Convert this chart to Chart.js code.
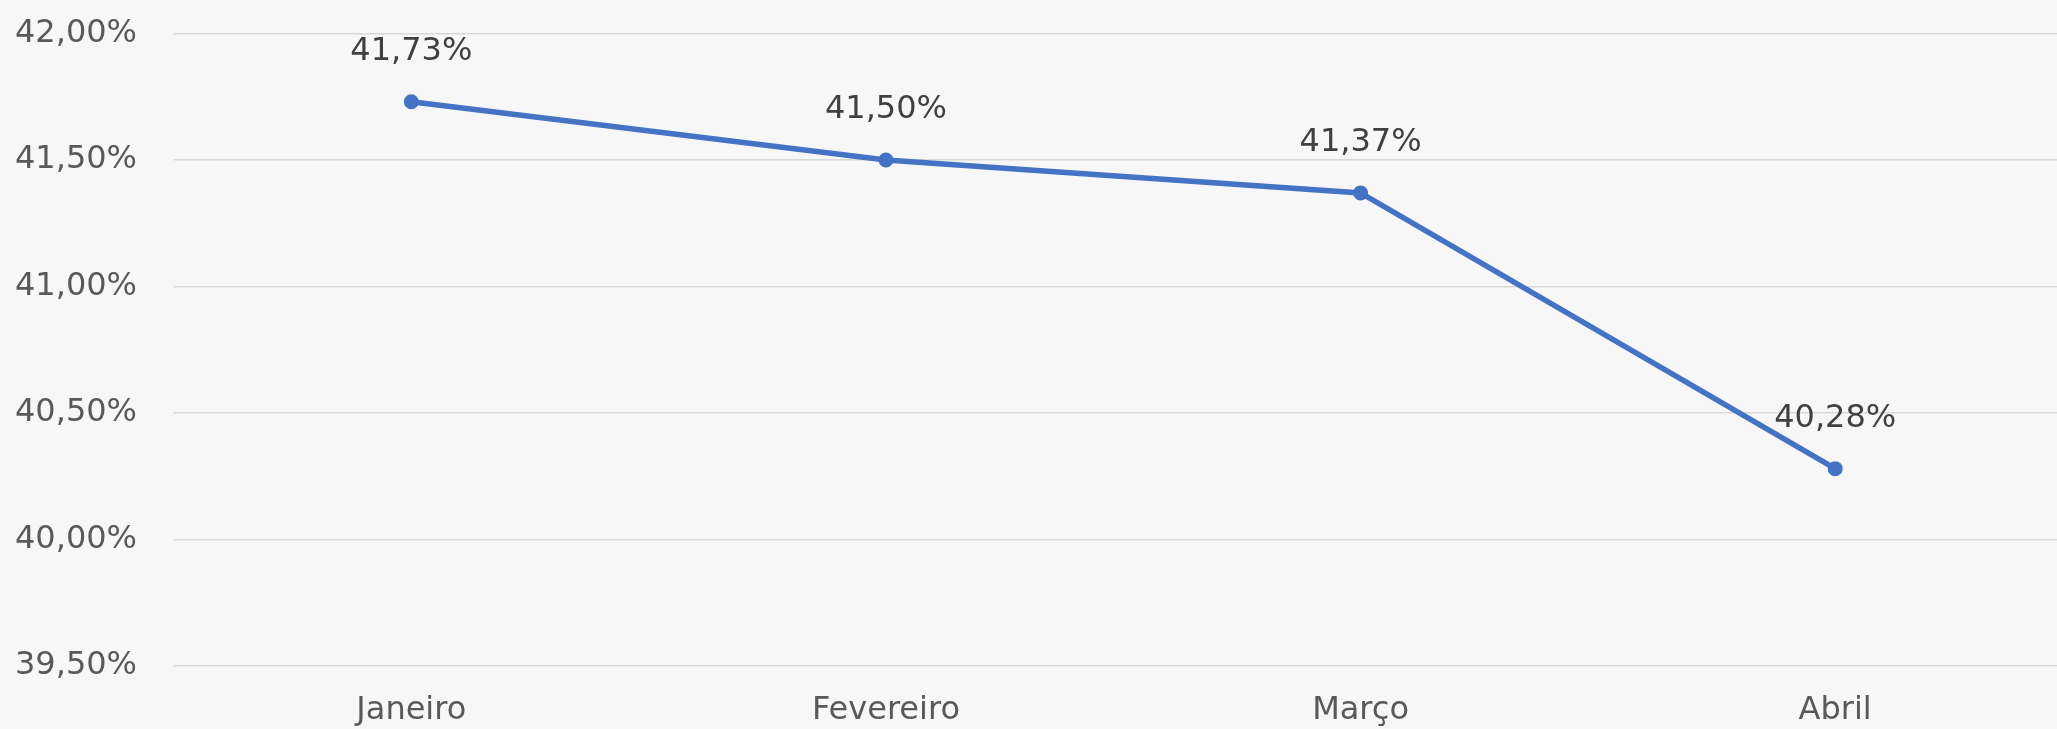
<!DOCTYPE html>
<html lang="pt">
<head>
  <meta charset="UTF-8" />
  <title>Evolução mensal</title>
  <style>
    html, body {
      margin: 0;
      padding: 0;
      background-color: #f7f7f7;
    }
    /* o canvas é um pouco mais largo que a janela; o excesso fica cortado, como no original */
    .moldura {
      width: 2057px;
      height: 729px;
      overflow: hidden;
    }
    canvas {
      display: block;
    }
  </style>
  <script src="https://cdn.jsdelivr.net/npm/chart.js"></script>
</head>
<body>
  <div class="moldura">
    <canvas id="grafico" width="2081" height="729"></canvas>
  </div>
  <script>
    // Dados
    const meses = ['Janeiro', 'Fevereiro', 'Março', 'Abril'];
    const percentuais = [41.73, 41.50, 41.37, 40.28];
    const eixoMin = 39.5;
    const eixoMax = 42.0;
    const eixoPasso = 0.5;

    const fmt = v => v.toFixed(2).replace('.', ',') + '%';

    // Rótulos de dados acima de cada ponto
    const rotulosPlugin = {
      id: 'rotulos',
      afterDatasetsDraw(chart) {
        const ctx = chart.ctx;
        const meta = chart.getDatasetMeta(0);
        ctx.save();
        ctx.font = '32px "DejaVu Sans"';
        ctx.fillStyle = '#404040';
        ctx.textAlign = 'center';
        ctx.textBaseline = 'middle';
        meta.data.forEach((pt, i) => {
          ctx.fillText(fmt(percentuais[i]), pt.x, pt.y - 50);
        });
        ctx.restore();
      }
    };

    new Chart(document.getElementById('grafico'), {
      type: 'line',
      data: {
        labels: meses,
        datasets: [{
          data: percentuais,
          borderColor: '#4472c4',
          backgroundColor: '#4472c4',
          borderWidth: 5.5,
          pointRadius: 6.5,
          pointBorderWidth: 2,
          pointHoverRadius: 6.5,
          tension: 0,
          fill: false
        }]
      },
      options: {
        responsive: false,
        animation: false,
        devicePixelRatio: 1,
        layout: {
          padding: { top: 33.5, right: 0, bottom: 0, left: 0 }
        },
        plugins: {
          legend: { display: false },
          tooltip: { enabled: false }
        },
        scales: {
          x: {
            offset: true,
            grid: { display: false, drawTicks: false },
            border: { display: false },
            afterFit(scale) { scale.height = 63; },
            ticks: {
              color: '#595959',
              font: { family: 'DejaVu Sans', size: 32 },
              padding: 25
            }
          },
          y: {
            min: eixoMin,
            max: eixoMax,
            grid: {
              color: '#d9d9d9',
              lineWidth: 1.5,
              drawTicks: true,
              tickLength: 37,
              tickColor: 'rgba(0,0,0,0)'
            },
            border: { display: false },
            afterFit(scale) { scale.width = 174; },
            ticks: {
              stepSize: eixoPasso,
              color: '#595959',
              font: { family: 'DejaVu Sans', size: 32 },
              padding: 0,
              callback: v => fmt(v)
            }
          }
        }
      },
      plugins: [rotulosPlugin]
    });
  </script>
</body>
</html>
